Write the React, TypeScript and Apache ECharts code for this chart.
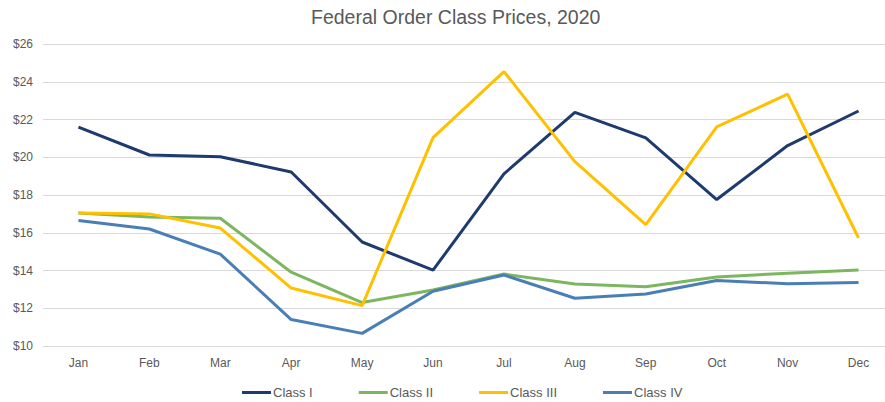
import React, { useEffect, useRef } from "react";
import * as echarts from "echarts";

const months = ["Jan", "Feb", "Mar", "Apr", "May", "Jun", "Jul", "Aug", "Sep", "Oct", "Nov", "Dec"];
const classI = [21.6, 20.12, 20.03, 19.22, 15.51, 14.02, 19.12, 22.38, 21.03, 17.76, 20.62, 22.45];
const classII = [17.05, 16.84, 16.77, 13.91, 12.3, 12.97, 13.81, 13.29, 13.14, 13.66, 13.86, 14.02];
const classIII = [17.05, 17.0, 16.25, 13.07, 12.14, 21.04, 24.54, 19.77, 16.43, 21.61, 23.34, 15.72];
const classIV = [16.65, 16.2, 14.87, 11.4, 10.67, 12.9, 13.76, 12.53, 12.75, 13.47, 13.3, 13.36];

const seriesNames = ["Class I", "Class II", "Class III", "Class IV"];
const seriesData = [classI, classII, classIII, classIV];
const colors = ["#1f3a6e", "#7cb65f", "#ffc000", "#4a7fb5"];

export default function App() {
  const ref = useRef<HTMLDivElement>(null);
  useEffect(() => {
    const chart = echarts.init(ref.current!, null, { renderer: "svg" });
    chart.setOption({
      animation: false,
      title: {
        text: "Federal Order Class Prices, 2020",
        left: 306,
        top: 2,
        textStyle: { fontFamily: "Liberation Sans", fontSize: 19.5, fontWeight: "normal", color: "#595959" },
      },
      legend: {
        bottom: -2,
        left: 237,
        icon: "rect",
        itemWidth: 29,
        itemHeight: 3,
        itemGap: 46,
        textStyle: { fontFamily: "Liberation Sans", fontSize: 13, color: "#595959", padding: [0, 0, 0, -3] },
        data: seriesNames,
      },
      grid: { left: 43, width: 851, top: 44, height: 302, containLabel: false },
      xAxis: {
        type: "category",
        data: months,
        boundaryGap: true,
        axisLine: { show: false },
        axisTick: { show: false },
        axisLabel: { fontFamily: "Liberation Sans", fontSize: 12, color: "#595959", margin: 11 },
      },
      yAxis: {
        type: "value",
        min: 10,
        max: 26,
        interval: 2,
        axisLine: { show: false },
        axisTick: { show: false },
        splitLine: { lineStyle: { color: "#d9d9d9", width: 1 } },
        axisLabel: {
          fontFamily: "Liberation Sans",
          fontSize: 12,
          color: "#595959",
          margin: 10,
          formatter: (v: number) => "$" + v,
        },
      },
      series: seriesNames.map((name, i) => ({
        name,
        type: "line",
        data: seriesData[i],
        symbol: "none",
        lineStyle: { width: 3, color: colors[i] },
        itemStyle: { color: colors[i] },
      })),
    });
    return () => chart.dispose();
  }, []);
  return (
    <div style={{ width: 885, height: 402, position: "absolute", left: 0, top: 0, overflow: "hidden" }}>
      <div ref={ref} style={{ width: 900, height: 402 }} />
    </div>
  );
}
